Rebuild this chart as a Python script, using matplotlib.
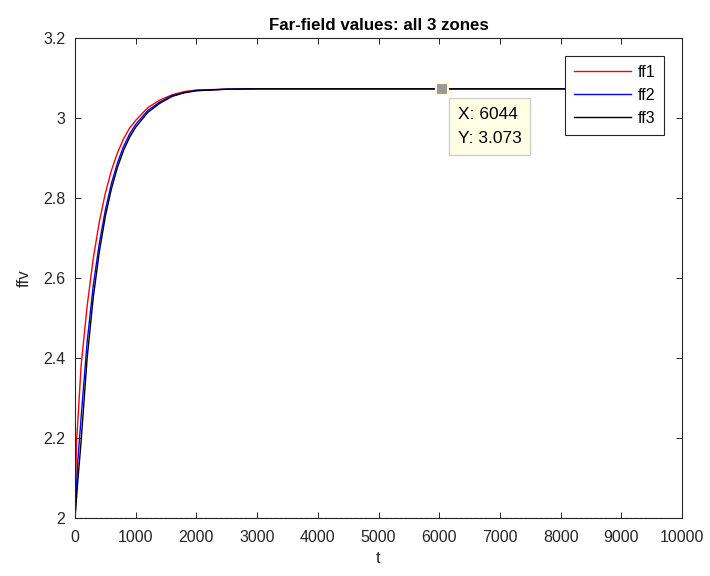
import matplotlib
matplotlib.use("Agg")
import matplotlib.pyplot as plt

plt.rcParams['font.family'] = ['Liberation Sans', 'DejaVu Sans']

t = [0, 25, 50, 100, 200, 300, 400, 500, 600, 700, 800, 900, 1000, 1200,
     1400, 1600, 1800, 2000, 2500, 3000, 4000, 6000, 9650]
ff1 = [2.0, 2.19, 2.25, 2.38, 2.53, 2.648, 2.74, 2.812, 2.869, 2.913, 2.948,
       2.975, 2.994, 3.026, 3.045, 3.058, 3.066, 3.070, 3.072, 3.073, 3.073,
       3.073, 3.073]
ff2 = [2.0, 2.08, 2.15, 2.25, 2.44, 2.58, 2.686, 2.77, 2.836, 2.888, 2.929,
       2.960, 2.984, 3.019, 3.040, 3.056, 3.064, 3.069, 3.072, 3.073, 3.073,
       3.073, 3.073]
ff3 = [2.0, 2.05, 2.10, 2.19, 2.40, 2.55, 2.665, 2.754, 2.823, 2.877, 2.919,
       2.952, 2.977, 3.014, 3.037, 3.054, 3.063, 3.068, 3.072, 3.073, 3.073,
       3.073, 3.073]

# dotted baseline series sitting on y = 2
base_t = [0, 9650]
base_y = [2.0, 2.0]

# data tip
tip_x, tip_y = 6044, 3.073

xticks = list(range(0, 10001, 1000))
yticks = [2, 2.2, 2.4, 2.6, 2.8, 3, 3.2]
ytick_labels = ["2", "2.2", "2.4", "2.6", "2.8", "3", "3.2"]

fig = plt.figure(figsize=(7.1, 5.76), dpi=100)
ax = fig.add_axes([75 / 710, 58 / 576, 607 / 710, 480 / 576])

ax.plot(base_t, base_y, color="black", linestyle=(0, (1, 3)), linewidth=0.9)
ax.plot(t, ff1, color="red", linewidth=1.0, label="ff1")
ax.plot(t, ff2, color="blue", linewidth=1.0, label="ff2")
ax.plot(t, ff3, color="black", linewidth=1.0, label="ff3")

ax.set_xlim(0, 10000)
ax.set_ylim(2, 3.2)
ax.set_xticks(xticks)
ax.set_xticklabels([str(v) for v in xticks])
ax.set_yticks(yticks)
ax.set_yticklabels(ytick_labels)

ax.tick_params(direction="in", top=True, right=True, length=4.5, width=0.7,
               labelsize=11.5, colors="#262626")
ax.tick_params(axis="x", pad=9)
ax.tick_params(axis="y", pad=7)
for s in ax.spines.values():
    s.set_linewidth(0.8)
    s.set_color("#262626")

ax.set_title("Far-field values: all 3 zones", fontsize=12.2, fontweight="bold", pad=6)
ax.set_xlabel("t", fontsize=12.2, color="#262626", labelpad=4)
ax.set_ylabel("ffv", fontsize=12.2, color="#262626", labelpad=8)

# data tip marker and box
ax.plot([tip_x], [tip_y], marker="s", markersize=8, color="#999999",
        markeredgecolor="#ffffd0", markeredgewidth=1.5, zorder=5)
ax.annotate(f"X: {tip_x}\nY: {tip_y:.3f}", xy=(tip_x, tip_y), xytext=(11.5, -13),
            textcoords="offset points", ha="left", va="top", fontsize=12.5,
            linespacing=1.75, color="black",
            bbox=dict(boxstyle="square,pad=0.5", facecolor="#ffffe6",
                      edgecolor="#cccccc", linewidth=0.9), zorder=6)

leg = ax.legend(loc="upper right", bbox_to_anchor=(589 / 607, 462 / 480),
                borderaxespad=0, fontsize=11.5, frameon=True, fancybox=False,
                handlelength=3.6, handletextpad=0.4, borderpad=0.55,
                labelspacing=0.5)
leg.get_frame().set_edgecolor("#262626")
leg.get_frame().set_linewidth(0.8)
leg.get_frame().set_alpha(1)

fig.savefig("out.png", dpi=100)
